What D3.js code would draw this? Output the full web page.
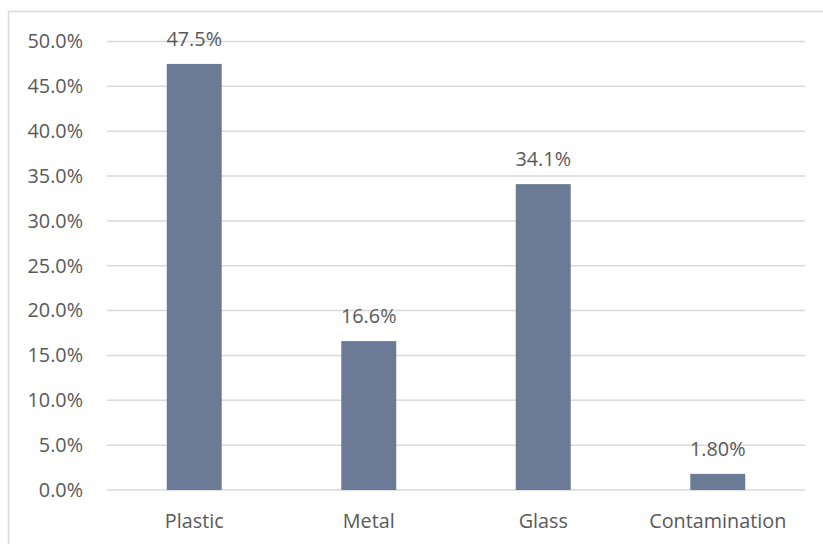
<!DOCTYPE html>
<html><head><meta charset="utf-8">
<script src="https://cdn.jsdelivr.net/npm/d3@7"></script>
<style>html,body{margin:0;padding:0;background:#fff;}svg{display:block;}</style>
</head><body>
<svg id="c" width="823" height="544"></svg>
<script>
const categories = ["Plastic", "Metal", "Glass", "Contamination"];
const values = [47.5, 16.6, 34.1, 1.8];
const valueLabels = ["47.5%", "16.6%", "34.1%", "1.80%"];
const yTicks = [0, 5, 10, 15, 20, 25, 30, 35, 40, 45, 50];

const svg = d3.select("#c");
const font = "'Open Sans', 'Noto Sans', sans-serif";
const txt = "#595959";
const fs = 19.8;

svg.append("rect").attr("x", 8.5).attr("y", 11.5).attr("width", 830).attr("height", 560)
  .attr("fill", "#fff").attr("stroke", "#d9d9d9").attr("stroke-width", 1.5);

const x = d3.scaleBand().domain(categories).range([107, 805]).paddingInner(0.685).paddingOuter(0.3425);
const y = d3.scaleLinear().domain([0, 50]).range([490, 41.5]);

const yAxis = d3.axisLeft(y).tickValues(yTicks).tickSize(0).tickPadding(24)
  .tickFormat(d => d.toFixed(1) + "%");
const gy = svg.append("g").attr("transform", "translate(107,0)").call(yAxis);
gy.select(".domain").remove();
gy.selectAll("text").attr("font-family", font).attr("font-size", fs).attr("fill", txt);

svg.append("g").selectAll("line").data(yTicks).join("line")
  .attr("x1", 107).attr("x2", 805).attr("y1", d => y(d)).attr("y2", d => y(d))
  .attr("stroke", "#d9d9d9").attr("stroke-width", 1.5);

svg.append("g").selectAll("rect").data(values).join("rect")
  .attr("x", (d, i) => x(categories[i])).attr("width", x.bandwidth())
  .attr("y", d => y(d)).attr("height", d => y(0) - y(d))
  .attr("fill", "#6b7b96");

svg.append("g").selectAll("text").data(values).join("text")
  .attr("x", (d, i) => x(categories[i]) + x.bandwidth() / 2)
  .attr("y", d => y(d) - 18)
  .attr("text-anchor", "middle").attr("font-family", font).attr("font-size", fs).attr("fill", txt)
  .text((d, i) => valueLabels[i]);

const xAxis = d3.axisBottom(x).tickSize(0).tickPadding(24);
const gx = svg.append("g").attr("transform", "translate(0,490)").call(xAxis);
gx.select(".domain").remove();
gx.selectAll("text").attr("font-family", font).attr("font-size", fs).attr("fill", txt);
</script>
</body></html>
